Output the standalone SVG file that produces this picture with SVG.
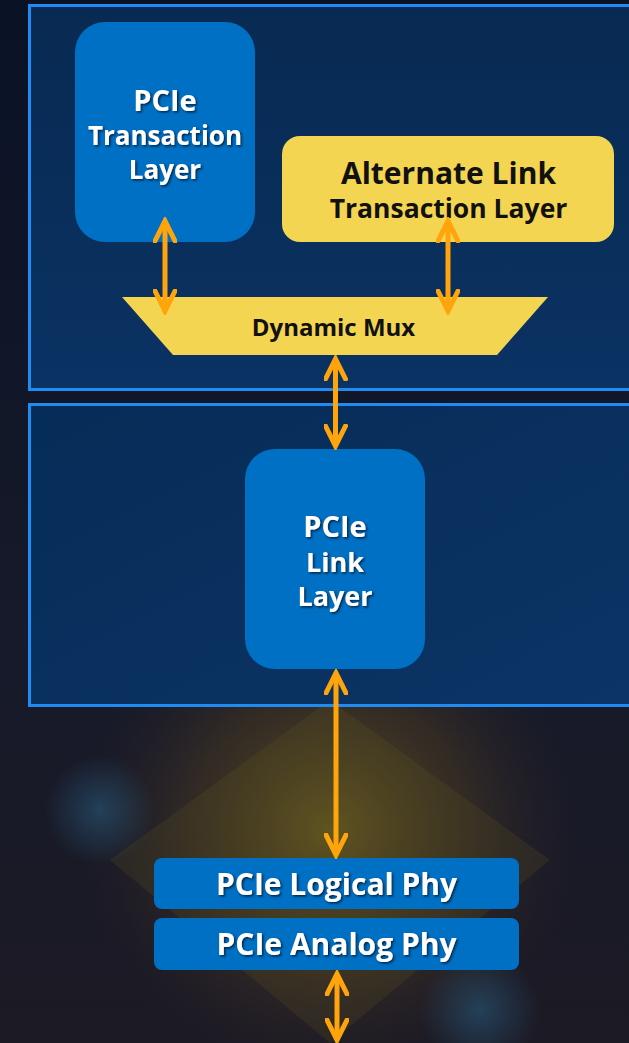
<svg xmlns="http://www.w3.org/2000/svg" width="629" height="1043" viewBox="0 0 629 1043">
  <defs>
    <linearGradient id="bgBase" x1="0" y1="0" x2="0" y2="1">
      <stop offset="0" stop-color="#0a1226"/>
      <stop offset="0.6" stop-color="#161a2a"/>
      <stop offset="1" stop-color="#1c1a24"/>
    </linearGradient>
    <radialGradient id="glowY" cx="330" cy="830" r="250" gradientUnits="userSpaceOnUse">
      <stop offset="0" stop-color="#6a5c1e" stop-opacity="0.85"/>
      <stop offset="0.55" stop-color="#443622" stop-opacity="0.6"/>
      <stop offset="1" stop-color="#2a2228" stop-opacity="0"/>
    </radialGradient>
    <radialGradient id="glowB1" cx="100" cy="810" r="55" gradientUnits="userSpaceOnUse">
      <stop offset="0" stop-color="#2a5f82" stop-opacity="0.55"/>
      <stop offset="1" stop-color="#2a5f82" stop-opacity="0"/>
    </radialGradient>
    <radialGradient id="glowB2" cx="480" cy="1010" r="60" gradientUnits="userSpaceOnUse">
      <stop offset="0" stop-color="#2a5f82" stop-opacity="0.55"/>
      <stop offset="1" stop-color="#2a5f82" stop-opacity="0"/>
    </radialGradient>
    <linearGradient id="panel1" x1="0" y1="0" x2="0" y2="1">
      <stop offset="0" stop-color="#082a52"/>
      <stop offset="1" stop-color="#0a3263"/>
    </linearGradient>
    <linearGradient id="panel2" x1="0" y1="0" x2="1" y2="1">
      <stop offset="0" stop-color="#062c58"/>
      <stop offset="1" stop-color="#0c3465"/>
    </linearGradient>
    <filter id="shadow" x="-10%" y="-10%" width="130%" height="140%">
      <feDropShadow dx="1.5" dy="1.5" stdDeviation="0.8" flood-color="#001a3a" flood-opacity="0.9"/>
    </filter>
    <marker id="ah" viewBox="0 0 26 24" refX="22" refY="12" markerWidth="26" markerHeight="24" markerUnits="userSpaceOnUse" orient="auto-start-reverse">
      <path d="M2,2 L22,12 L2,22" fill="none" stroke="#ffa40a" stroke-width="5" stroke-linecap="round" stroke-linejoin="miter"/>
    </marker>
    <style>
      .panel { stroke: #1e8cf2; stroke-width: 3; }
      .blue { fill: #0070c4; }
      .yellow { fill: #f3d552; }
      .wt { fill: #ffffff; font-family: "Open Sans", "DejaVu Sans", sans-serif; font-weight: 700; text-anchor: middle; filter: url(#shadow); }
      .bt { fill: #111111; font-family: "Open Sans", "DejaVu Sans", sans-serif; font-weight: 700; text-anchor: middle; }
      .conn { stroke: #ffa40a; stroke-width: 5; fill: none; }
    </style>
  </defs>

  <g id="background">
    <rect x="0" y="0" width="629" height="1043" fill="url(#bgBase)"/>
    <rect x="0" y="560" width="629" height="483" fill="url(#glowY)"/>
    <path d="M330,700 L550,860 L330,1043 L110,860 Z" fill="#6a5e22" opacity="0.18"/>
    <rect x="0" y="700" width="629" height="343" fill="url(#glowB1)"/>
    <rect x="0" y="700" width="629" height="343" fill="url(#glowB2)"/>
  </g>

  <g id="panel-top">
    <rect class="panel" x="29.5" y="5.5" width="620" height="384" fill="url(#panel1)"/>
  </g>
  <g id="panel-bottom">
    <rect class="panel" x="29.5" y="404.5" width="620" height="301" fill="url(#panel2)"/>
  </g>

  <g id="pcie-transaction-layer">
    <rect class="blue" x="75" y="22" width="180" height="220" rx="30"/>
    <text class="wt" x="165" y="111" font-size="29">PCIe</text>
    <text class="wt" x="165" y="145" font-size="26">Transaction</text>
    <text class="wt" x="165" y="179" font-size="26">Layer</text>
  </g>

  <g id="alternate-link">
    <rect class="yellow" x="282" y="136" width="332" height="106" rx="18"/>
    <text class="bt" x="448.5" y="184" font-size="30">Alternate Link</text>
    <text class="bt" x="448.5" y="218" font-size="26.5">Transaction Layer</text>
  </g>

  <g id="dynamic-mux">
    <polygon class="yellow" points="122,297 548,297 497,355 173,355"/>
    <text class="bt" x="333.5" y="336" font-size="24">Dynamic Mux</text>
  </g>

  <g id="pcie-link-layer">
    <rect class="blue" x="245" y="449" width="180" height="220" rx="30"/>
    <text class="wt" x="335" y="537" font-size="29">PCIe</text>
    <text class="wt" x="335" y="572" font-size="27">Link</text>
    <text class="wt" x="335" y="606" font-size="27">Layer</text>
  </g>

  <g id="pcie-logical-phy">
    <rect class="blue" x="154" y="858" width="365" height="51" rx="8"/>
    <text class="wt" x="336.5" y="895" font-size="30">PCIe Logical Phy</text>
  </g>

  <g id="pcie-analog-phy">
    <rect class="blue" x="154" y="918" width="365" height="52" rx="8"/>
    <text class="wt" x="336.5" y="955" font-size="30">PCIe Analog Phy</text>
  </g>

  <g id="connectors">
    <line class="conn" x1="165" y1="221" x2="165" y2="311" marker-start="url(#ah)" marker-end="url(#ah)"/>
    <line class="conn" x1="448" y1="221" x2="448" y2="311" marker-start="url(#ah)" marker-end="url(#ah)"/>
    <line class="conn" x1="335.5" y1="359" x2="335.5" y2="446" marker-start="url(#ah)" marker-end="url(#ah)"/>
    <line class="conn" x1="336" y1="673" x2="336" y2="855" marker-start="url(#ah)" marker-end="url(#ah)"/>
    <line class="conn" x1="337" y1="974" x2="337" y2="1040" marker-start="url(#ah)" marker-end="url(#ah)"/>
  </g>
</svg>
